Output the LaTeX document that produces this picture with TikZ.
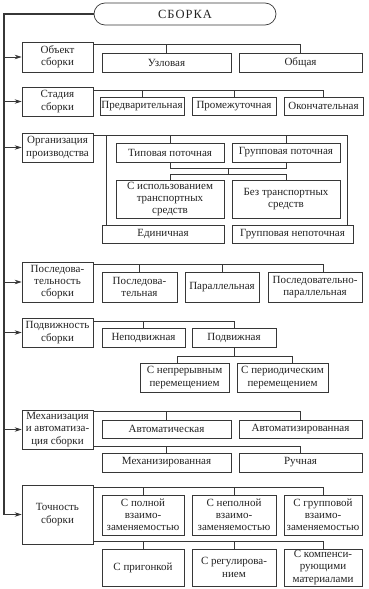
\documentclass[tikz,border=0pt]{standalone}
\usepackage{fontspec}
\setmainfont{Liberation Serif}
\usetikzlibrary{arrows.meta,calc}
\definecolor{lineGray}{RGB}{55,55,55}
\definecolor{textGray}{RGB}{35,35,35}

\begin{document}
\begin{tikzpicture}[x=1pt,y=-1pt,
    box/.style={draw=lineGray, line width=0.7pt, fill=white, align=center, inner sep=0pt,
      text=textGray, font=\fontsize{11}{12.2}\selectfont},
    link/.style={draw=lineGray, line width=0.7pt},
    feed/.style={draw=lineGray, line width=0.8pt, -{Stealth[length=7pt,width=4.5pt]}}]
  \useasboundingbox (0,0) rectangle (368,589);
  % Root
  \node[box, rounded corners=11pt, minimum width=182, minimum height=22,
    font=\fontsize{12.5}{14}\selectfont] (root) at (185,14) {С\kern1ptБ\kern1ptО\kern1ptР\kern1ptК\kern1ptА};
  % Left column
  \node[box, minimum width=71, minimum height=30] (obj) at (57.5,57) {Объект\\сборки};
  \node[box, minimum width=71, minimum height=29] (stage) at (57.5,101.5) {Стадия\\сборки};
  \node[box, minimum width=71, minimum height=29] (org) at (57.5,147.5) {Организация\\производства};
  \node[box, minimum width=71, minimum height=40] (seq) at (57.5,282) {Последова-\\тельность\\сборки};
  \node[box, minimum width=71, minimum height=29] (mob) at (57.5,332.5) {Подвижность\\сборки};
  \node[box, minimum width=71, minimum height=39] (mech) at (57.5,429.5) {Механизация\\и автоматиза-\\ция сборки};
  \node[box, minimum width=71, minimum height=59] (acc) at (57.5,514.5) {Точность\\сборки};
  % Trunk
  \coordinate (trunk) at (4,0);
  \draw[link, line width=1.3pt] (root.west) -| (trunk |- acc.west);
  \foreach \c in {obj,stage,org,seq,mob,mech,acc}
    \draw[feed] (trunk |- \c.west) -- (\c.west);

  % Object
  \node[box, minimum width=129, minimum height=19] (uzl) at (166.5,62.5) {Узловая};
  \node[box, minimum width=123, minimum height=19] (obsh) at (300.5,62.5) {Общая};
  \draw[link] ([yshift=-3pt]obj.north east) -| (uzl.north);
  \draw[link] ([yshift=-3pt]obj.north east) -| (obsh.north);

  % Stage
  \node[box, minimum width=84, minimum height=18] (pred) at (142,106) {Предварительная};
  \node[box, minimum width=84, minimum height=18] (prom) at (234,106) {Промежуточная};
  \node[box, minimum width=79, minimum height=18] (okon) at (323.5,106) {Окончательная};
  \foreach \k in {pred,prom,okon}
    \draw[link] ([yshift=-4pt]stage.north east) -| (\k.north);

  % Organisation
  \node[box, minimum width=108, minimum height=19] (tip) at (170,152.5) {Типовая поточная};
  \node[box, minimum width=108, minimum height=19] (grp) at (286,152.5) {Групповая поточная};
  \node[box, minimum width=108, minimum height=38] (sisp) at (170,199) {С использованием\\транспортных\\средств};
  \node[box, minimum width=108, minimum height=38] (bez) at (286,199) {Без транспортных\\средств};
  \node[box, minimum width=122, minimum height=18] (edin) at (163,234) {Единичная};
  \node[box, minimum width=121, minimum height=18] (grnp) at (292.5,234) {Групповая непоточная};
  \draw[link] ([yshift=-3pt]org.north east) -| (tip.north);
  \draw[link] ([yshift=-3pt]org.north east) -| (grp.north);
  \draw[link] ([yshift=-3pt]org.north east) -| ([xshift=5pt]edin.north west);
  \draw[link] ([yshift=-3pt]org.north east) -| ([xshift=-6pt]grnp.north east);
  \draw[link] (tip.south) -- ++(0,6) -| (grp.south);
  \draw[link] ($(tip.south)!.5!(grp.south)+(0,6)$) -- ++(0,6) coordinate (jn);
  \draw[link] (jn) -| (sisp.north);
  \draw[link] (jn) -| (bez.north);

  % Sequence
  \node[box, minimum width=75, minimum height=30] (posl) at (139.5,287) {Последова-\\тельная};
  \node[box, minimum width=74, minimum height=30] (par) at (222,287) {Параллельная};
  \node[box, minimum width=94, minimum height=30] (pospar) at (315,287) {Последовательно-\\параллельная};
  \draw[link] ([yshift=-3pt]seq.north east) -| (posl.north);
  \draw[link] ([yshift=-3pt]seq.north east) -| (par.north);
  \draw[link] ([yshift=-3pt]seq.north east) -| ([xshift=8pt]pospar.north);

  % Mobility
  \node[box, minimum width=83, minimum height=19] (nepod) at (143.5,337.5) {Неподвижная};
  \node[box, minimum width=84, minimum height=19] (podv) at (234,337.5) {Подвижная};
  \node[box, minimum width=89, minimum height=29] (nepr) at (184.5,377.5) {С непрерывным\\перемещением};
  \node[box, minimum width=91, minimum height=29] (period) at (282.5,377.5) {С периодическим\\перемещением};
  \draw[link] ([yshift=-4pt]mob.north east) -| (nepod.north);
  \draw[link] ([yshift=-4pt]mob.north east) -| (podv.north);
  \draw[link] (podv.south) -- ++(0,9) coordinate (pj);
  \draw[link] (pj) -| ([xshift=-7pt]nepr.north);
  \draw[link] (pj) -| ([xshift=10pt]period.north);

  % Mechanisation
  \node[box, minimum width=129, minimum height=18] (auto) at (166.5,429) {Автоматическая};
  \node[box, minimum width=123, minimum height=18] (autom) at (300.5,429) {Автоматизированная};
  \node[box, minimum width=129, minimum height=19] (mekh) at (166.5,462.5) {Механизированная};
  \node[box, minimum width=123, minimum height=19] (ruch) at (300.5,462.5) {Ручная};
  \draw[link] ([yshift=-2pt]mech.north east) -| (auto.north);
  \draw[link] ([yshift=-2pt]mech.north east) -| (autom.north);
  \draw[link] ([yshift=3pt]mech.south east) -| (mekh.north);
  \draw[link] ([yshift=3pt]mech.south east) -| (ruch.north);

  % Accuracy
  \node[box, minimum width=82, minimum height=40] (full) at (143,515) {С полной\\взаимо-\\заменяемостью};
  \node[box, minimum width=84, minimum height=40] (nepoln) at (234,515) {С неполной\\взаимо-\\заменяемостью};
  \node[box, minimum width=78, minimum height=40] (grvz) at (323,515) {С групповой\\взаимо-\\заменяемостью};
  \node[box, minimum width=82, minimum height=37] (prig) at (143,567.5) {С пригонкой};
  \node[box, minimum width=84, minimum height=37] (reg) at (234,567.5) {С регулирова-\\нием};
  \node[box, minimum width=78, minimum height=37] (komp) at (323,567.5) {С компенси-\\рующими\\материалами};
  \foreach \k in {full,nepoln,grvz}
    \draw[link] ([yshift=-3pt]acc.north east) -| (\k.north);
  \foreach \k in {prig,reg,komp}
    \draw[link] ([yshift=3pt]acc.south east) -| (\k.north);
\end{tikzpicture}
\end{document}
